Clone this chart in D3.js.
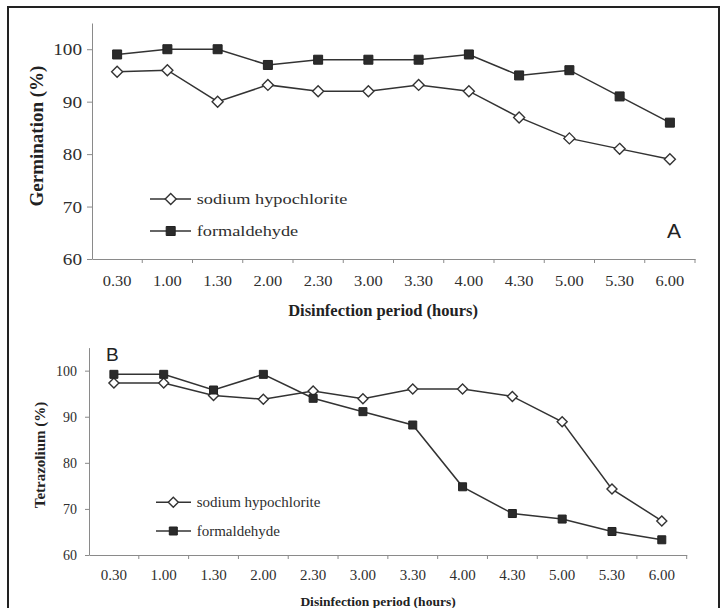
<!DOCTYPE html>
<html>
<head>
<meta charset="utf-8">
<script src="https://cdn.jsdelivr.net/npm/d3@7"></script>
<style>
body { margin: 0; background: #fff; }
svg { display: block; }
</style>
</head>
<body>
<svg></svg>
<script>
const width = 723
const height = 608

const periods = ["0.30", "1.00", "1.30", "2.00", "2.30", "3.00", "3.30", "4.00", "4.30", "5.00", "5.30", "6.00"]
const seriesNames = ["sodium hypochlorite", "formaldehyde"]
const yTicks = [60, 70, 80, 90, 100]

// panel A - germination
const germSodium = [95.7, 96, 90, 93.2, 92, 92, 93.2, 92, 87, 83, 81, 79]
const germFormal = [99, 100, 100, 97, 98, 98, 98, 99, 95, 96, 91, 86]

// panel B - tetrazolium
const tetraSodium = [97.3, 97.3, 94.6, 93.8, 95.6, 93.9, 96, 96, 94.4, 88.9, 74.3, 67.4]
const tetraFormal = [99.2, 99.2, 95.8, 99.2, 94, 91.1, 88.2, 74.8, 69, 67.8, 65.1, 63.3]

const serif = "'Liberation Serif', 'Times New Roman', serif"
const ink = "#2e2e2e"

const svg = d3.select('svg')
	.attr('width', width)
	.attr('height', height)

// outer frame (bottom edge is cut off in the reference)
svg.append('path')
	.attr('d', 'M8,' + (height + 5) + 'V7H719V' + (height + 5))
	.attr('fill', 'none')
	.attr('stroke', '#222')
	.attr('stroke-width', 2)

function drawPanel(p) {
	const g = svg.append('g')

	const x = d3.scaleBand().domain(periods).range(p.xRange)
	const y = d3.scaleLinear().domain([60, 105]).range(p.yRange)
	const cx = function (d, i) { return x(periods[i]) + x.bandwidth() / 2 }

	// y axis
	const yAxis = g.append('g')
		.attr('transform', 'translate(' + p.xRange[0] + ',0)')
		.call(d3.axisLeft(y).tickValues(yTicks).tickSize(p.yTickLen).tickSizeOuter(0))
	yAxis.select('.domain').attr('stroke', '#8a8a8a')
	yAxis.selectAll('.tick line').attr('stroke', '#8a8a8a')
	yAxis.selectAll('.tick text')
		.attr('font-family', serif)
		.attr('font-size', p.yFont)
		.attr('fill', ink)
		.attr('x', -p.yGap / p.ySx)
		.attr('dy', '0.35em')
		.attr('transform', 'scale(' + p.ySx + ',1)')

	// x axis: labels at band centres, tick marks at band edges
	const xAxis = g.append('g')
		.attr('transform', 'translate(0,' + p.yRange[0] + ')')
		.call(d3.axisBottom(x).tickSize(0).tickSizeOuter(0))
	xAxis.select('.domain').attr('stroke', '#8a8a8a')
	xAxis.selectAll('.tick text')
		.attr('font-family', serif)
		.attr('font-size', p.xFont)
		.attr('fill', ink)
		.attr('y', p.xLabelY)
		.attr('dy', 0)
		.attr('transform', 'scale(' + p.xSx + ',1)')
	xAxis.selectAll('.tick')
		.attr('transform', function (d) { return 'translate(' + (x(d) + x.bandwidth() / 2) + ',0)' })

	const edges = periods.map(function (d) { return x(d) }).concat([p.xRange[1]])
	g.append('g')
		.selectAll('line')
		.data(edges.slice(1))
		.enter()
		.append('line')
		.attr('x1', function (d) { return d })
		.attr('x2', function (d) { return d })
		.attr('y1', p.yRange[0])
		.attr('y2', p.yRange[0] + 4)
		.attr('stroke', '#8a8a8a')

	// axis titles
	g.append('text')
		.attr('x', p.xTitle[0])
		.attr('y', p.xTitle[1])
		.attr('text-anchor', 'middle')
		.attr('font-family', serif)
		.attr('font-weight', 'bold')
		.attr('font-size', p.xTitleFont)
		.attr('fill', '#222')
		.text('Disinfection period (hours)')

	g.append('text')
		.attr('transform', 'translate(' + p.yTitle[0] + ',' + p.yTitle[1] + ') rotate(-90)')
		.attr('text-anchor', 'middle')
		.attr('font-family', serif)
		.attr('font-weight', 'bold')
		.attr('font-size', p.yTitleFont)
		.attr('fill', '#222')
		.text(p.yLabel)

	const line = d3.line()
		.x(cx)
		.y(function (d) { return y(d) })

	const series = [p.sodium, p.formal]
	series.forEach(function (vals, k) {
		g.append('path')
			.attr('d', line(vals))
			.attr('fill', 'none')
			.attr('stroke', '#333')
			.attr('stroke-width', 1.5)
	})

	function diamond(sel, r) {
		sel.attr('d', 'M0,' + (-r) + 'L' + r + ',0L0,' + r + 'L' + (-r) + ',0Z')
			.attr('fill', '#fff')
			.attr('stroke', '#333')
			.attr('stroke-width', 1.4)
	}
	function square(sel, s) {
		sel.attr('d', 'M' + (-s / 2) + ',' + (-s / 2) + 'h' + s + 'v' + s + 'h' + (-s) + 'Z')
			.attr('fill', '#2b2b2b')
			.attr('stroke', '#222')
			.attr('stroke-width', 1)
	}

	g.append('g')
		.selectAll('path')
		.data(p.sodium)
		.enter()
		.append('path')
		.attr('transform', function (d, i) { return 'translate(' + cx(d, i) + ',' + y(d) + ')' })
		.call(diamond, p.diamondR)

	g.append('g')
		.selectAll('path')
		.data(p.formal)
		.enter()
		.append('path')
		.attr('transform', function (d, i) { return 'translate(' + cx(d, i) + ',' + y(d) + ')' })
		.call(square, p.squareS)

	// legend
	seriesNames.forEach(function (name, k) {
		const ly = p.legendY[k]
		g.append('line')
			.attr('x1', p.legendLine[0])
			.attr('x2', p.legendLine[1])
			.attr('y1', ly)
			.attr('y2', ly)
			.attr('stroke', '#333')
			.attr('stroke-width', 1.5)
		const m = g.append('path')
			.attr('transform', 'translate(' + p.legendMark + ',' + ly + ')')
		if (k === 0) m.call(diamond, p.diamondR)
		else m.call(square, p.squareS)
		g.append('text')
			.attr('transform', 'translate(' + p.legendText + ',' + (ly + p.legendFont * 0.33) + ') scale(' + p.legendSx + ',1)')
			.attr('font-family', serif)
			.attr('font-size', p.legendFont)
			.attr('fill', ink)
			.text(name)
	})

	// panel letter
	g.append('text')
		.attr('x', p.tag[0])
		.attr('y', p.tag[1])
		.attr('font-family', "'Liberation Sans', Arial, sans-serif")
		.attr('font-size', p.tagFont)
		.attr('fill', '#222')
		.text(p.tagText)
}

drawPanel({
	sodium: germSodium,
	formal: germFormal,
	yLabel: 'Germination (%)',
	xRange: [92, 695],
	yRange: [259, 23],
	yTickLen: 5,
	yFont: 16,
	ySx: 1.2,
	yGap: 10,
	xFont: 15.5,
	xSx: 1.06,
	xLabelY: 27.5,
	xTitle: [383, 316],
	xTitleFont: 16.5,
	yTitle: [43, 136],
	yTitleFont: 19,
	diamondR: 5.5,
	squareS: 9,
	legendY: [199, 231],
	legendLine: [150, 191],
	legendMark: 170.7,
	legendText: 196.7,
	legendFont: 15.5,
	legendSx: 1.18,
	tag: [667, 238],
	tagFont: 21,
	tagText: 'A'
})

drawPanel({
	sodium: tetraSodium,
	formal: tetraFormal,
	yLabel: 'Tetrazolium (%)',
	xRange: [89, 686.7],
	yRange: [555, 347.6],
	yTickLen: 4,
	yFont: 14,
	ySx: 1,
	yGap: 12,
	xFont: 15,
	xSx: 1,
	xLabelY: 25,
	xTitle: [378, 605.5],
	xTitleFont: 13.5,
	yTitle: [45, 455],
	yTitleFont: 15,
	diamondR: 5,
	squareS: 8,
	legendY: [502.3, 531],
	legendLine: [156, 191],
	legendMark: 173.3,
	legendText: 196.7,
	legendFont: 15,
	legendSx: 1,
	tag: [106, 361],
	tagFont: 19,
	tagText: 'B'
})
</script>
</body>
</html>
